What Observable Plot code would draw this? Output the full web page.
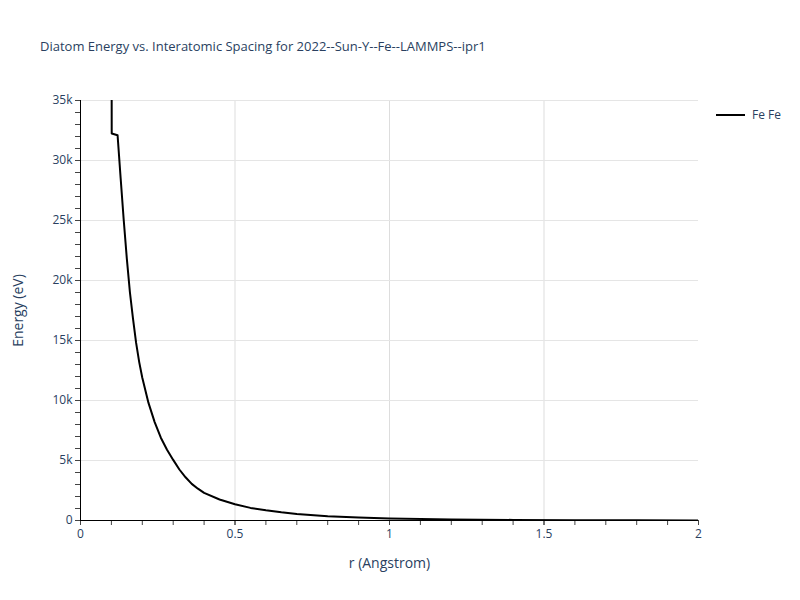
<!DOCTYPE html>
<html><head><meta charset="utf-8">
<script src="https://cdn.jsdelivr.net/npm/d3@7"></script>
<script src="https://cdn.jsdelivr.net/npm/@observablehq/plot@0.6"></script>
<style>
body{margin:0;background:#fff;font-family:"Open Sans",sans-serif;}
#wrap{position:relative;width:800px;height:600px;}
#title{position:absolute;left:40px;top:37px;font-size:13px;color:#2a3f5f;white-space:nowrap;}
#legend{position:absolute;left:716px;top:106px;font-size:12px;color:#2a3f5f;display:flex;align-items:center;}
#legend span.sw{display:inline-block;width:29px;height:0;border-top:2px solid #000;margin-right:7px;}
</style></head>
<body>
<div id="wrap">
<div id="chart"></div>
<div id="title">Diatom Energy vs. Interatomic Spacing for 2022--Sun-Y--Fe--LAMMPS--ipr1</div>
<div id="legend"><span class="sw"></span><span>Fe Fe</span></div>
</div>
<script>
const seriesName = "Fe Fe";
const rValues = [0.1, 0.101, 0.12, 0.13, 0.14, 0.15, 0.16, 0.17, 0.18, 0.19, 0.20, 0.22, 0.24, 0.26, 0.28, 0.30, 0.32, 0.34, 0.36, 0.38, 0.40, 0.45, 0.50, 0.55, 0.60, 0.65, 0.70, 0.80, 0.90, 1.0, 1.2, 1.4, 1.6, 1.8, 2.0];
const energyValues = [60000, 32250, 32100, 28500, 25000, 21800, 19000, 16800, 14800, 13200, 11900, 9800, 8200, 6900, 5900, 5050, 4250, 3600, 3050, 2650, 2300, 1750, 1350, 1050, 850, 680, 540, 360, 240, 170, 90, 50, 30, 18, 10];
const xMajorTicks = [0, 0.5, 1, 1.5, 2];
const xTickLabels = ["0", "0.5", "1", "1.5", "2"];
const xMinorTicks = d3.range(0, 2.0001, 0.1).map(v => +v.toFixed(2));
const yMajorTicks = [0, 5000, 10000, 15000, 20000, 25000, 30000, 35000];
const yTickLabels = ["0", "5k", "10k", "15k", "20k", "25k", "30k", "35k"];
const yMinorTicks = d3.range(0, 35001, 1000);

const data = rValues.map((r, i) => ({r, e: energyValues[i]}));
const txt = "#2a3f5f";

const chart = Plot.plot({
  width: 800, height: 600,
  marginLeft: 80, marginRight: 102, marginTop: 100, marginBottom: 80,
  style: {fontFamily: "Open Sans, sans-serif", fontSize: "12px", background: "#fff"},
  x: {domain: [0, 2]},
  y: {domain: [0, 35000]},
  marks: [
    Plot.gridX(xMajorTicks.filter(d => d > 0 && d < 2), {stroke: "#ddd", strokeOpacity: 1, strokeWidth: 1}),
    Plot.gridY(yMajorTicks.filter(d => d > 0), {stroke: "#e5e5e5", strokeOpacity: 1, strokeWidth: 1}),
    Plot.axisX(xMinorTicks, {tickSize: 5, tickFormat: () => "", stroke: "#444", label: null}),
    Plot.axisY(yMinorTicks, {tickSize: 5, tickFormat: () => "", stroke: "#444", label: null}),
    Plot.axisX(xMajorTicks, {tickSize: 5, tickPadding: 4, tickFormat: (d, i) => xTickLabels[i], fill: txt, stroke: "#444", fontSize: 12,
      label: "r (Angstrom)", labelAnchor: "center", labelOffset: 47, labelArrow: false}),
    Plot.axisY(yMajorTicks, {tickSize: 5, tickPadding: 3, tickFormat: (d, i) => yTickLabels[i], fill: txt, stroke: "#444", fontSize: 12,
      label: "Energy (eV)", labelAnchor: "center", labelOffset: 67, labelArrow: false}),
    Plot.ruleX([0], {stroke: "#000", strokeWidth: 1}),
    Plot.ruleY([0], {stroke: "#000", strokeWidth: 1}),
    Plot.line(data, {x: "r", y: "e", stroke: "#000", strokeWidth: 2, clip: true})
  ]
});
document.getElementById("chart").appendChild(chart);
chart.querySelectorAll("[aria-label='x-axis label'] text, [aria-label='y-axis label'] text").forEach(t => {
  t.setAttribute("font-size", "14"); t.setAttribute("fill", txt); t.style.fontSize = "14px";
});
</script>
</body></html>
